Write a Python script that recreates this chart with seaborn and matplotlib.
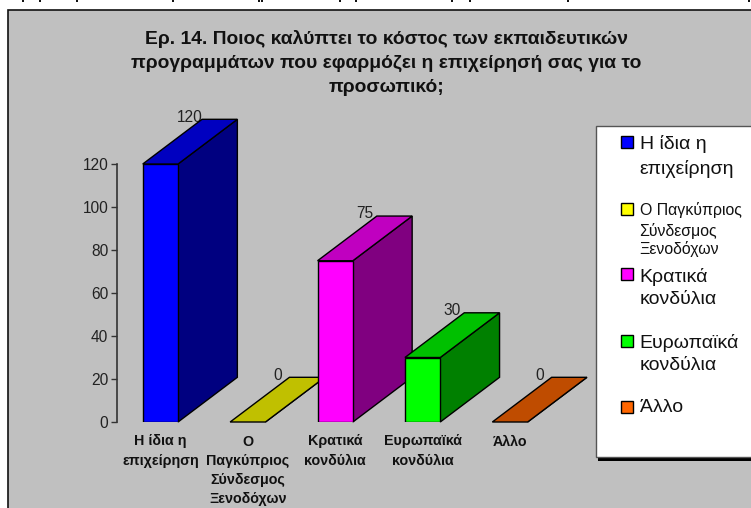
import matplotlib
matplotlib.use("Agg")
import matplotlib.pyplot as plt
from matplotlib.patches import Polygon, Rectangle
import seaborn as sns

# Survey responses: who covers the cost of staff training programmes
categories = ["Η ίδια η\nεπιχείρηση", "Ο\nΠαγκύπριος\nΣύνδεσμος\nΞενοδόχων",
              "Κρατικά\nκονδύλια", "Ευρωπαϊκά\nκονδύλια", "Άλλο"]
values = [120, 0, 75, 30, 0]
yticks = [0, 20, 40, 60, 80, 100, 120]
front_colors = ["#0000FF", "#FFFF00", "#FF00FF", "#00FF00", "#FF6600"]
top_colors = ["#0000C0", "#C0C000", "#C000C0", "#00C000", "#BF4C00"]
side_colors = ["#000080", "#808000", "#800080", "#008000", "#7F3300"]
title_lines = ["Ερ. 14. Ποιος καλύπτει το κόστος των εκπαιδευτικών",
               "προγραμμάτων που εφαρμόζει η επιχείρησή σας για το",
               "προσωπικό;"]
legend_entries = [["Η ίδια η", "επιχείρηση"],
                  ["Ο Παγκύπριος", "Σύνδεσμος", "Ξενοδόχων"],
                  ["Κρατικά", "κονδύλια"],
                  ["Ευρωπαϊκά", "κονδύλια"],
                  ["Άλλο"]]

W, H = 751, 508
GREY = "#C0C0C0"
sns.set_theme(style="white", rc={"axes.facecolor": "none"})
plt.rcParams["font.family"] = ["Liberation Sans", "DejaVu Sans"]


def fx(px):
    return px / W


def fy(py):
    return 1 - py / H


def page_rect(x0, y0, x1, y1, **kw):
    """Rectangle given in page pixels, measured from the top-left corner."""
    r = Rectangle((fx(x0), fy(y1)), fx(x1) - fx(x0), fy(y0) - fy(y1),
                  transform=fig.transFigure, **kw)
    fig.add_artist(r)
    return r


fig = plt.figure(figsize=(W / 100, H / 100), dpi=100, facecolor="white")

# Chart area: grey panel with a dark rule along its top and left sides
page_rect(7.5, 9.5, W + 5, H + 5, facecolor=GREY, edgecolor="#111111", linewidth=1.2, zorder=-5)

# Tails of the heading cut off by the page edge
for tail_x in [23, 40, 77, 173, 259, 262, 340, 356, 452, 470, 568, 749]:
    page_rect(tail_x - 1, 0, tail_x + 1, 2.0, facecolor="#111111", edgecolor="none", zorder=-4)

ax = fig.add_axes([fx(116.7), fy(422), fx(553.7) - fx(116.7), fy(164) - fy(422)])
sns.barplot(x=list(range(len(values))), y=values, hue=list(range(len(values))),
            palette=front_colors, width=0.404, legend=False, saturation=1,
            edgecolor="black", linewidth=1.0, ax=ax)
ax.set_xlim(-0.5, 4.5)
ax.set_ylim(0, 120)

# Receding faces of each bar; later bars sit in front of earlier ones
px_x = 437 / 5
px_y = 258 / 120
depth_x = 59.3 / px_x
depth_y = 44.7 / px_y
for i, (bar, val) in enumerate(zip(ax.patches, values)):
    x0, x1 = bar.get_x(), bar.get_x() + bar.get_width()
    base_z = 3 + i * 3
    if val > 0:
        bar.set_zorder(base_z + 2)
    else:
        bar.set_visible(False)
    ax.add_patch(Polygon([(x1, 0), (x1 + depth_x, depth_y), (x1 + depth_x, val + depth_y), (x1, val)],
                         closed=True, facecolor=side_colors[i], edgecolor="black",
                         linewidth=1.0, clip_on=False, zorder=base_z))
    ax.add_patch(Polygon([(x0, val), (x0 + depth_x, val + depth_y), (x1 + depth_x, val + depth_y), (x1, val)],
                         closed=True, facecolor=top_colors[i], edgecolor="black",
                         linewidth=1.0, clip_on=False, zorder=base_z + 1))
    ax.annotate(str(val), ((x0 + x1) / 2 + depth_x / 2, val + depth_y), xytext=(0, 1.5),
                textcoords="offset points", ha="center", va="center",
                fontsize=11.2, color="#222222", zorder=2, annotation_clip=False)

sns.despine(ax=ax, left=False, bottom=True, top=True, right=True)
ax.spines["left"].set_color("#333333")
ax.spines["left"].set_linewidth(1.2)
ax.set_yticks(yticks)
ax.set_yticklabels([str(t) for t in yticks], fontsize=11.2, color="#222222")
ax.tick_params(axis="y", length=4, width=1.0, color="#333333", left=True, pad=2)
ax.set_xticks(range(len(categories)))
ax.set_xticklabels(categories, fontsize=10.3, fontweight="bold", color="#111111", linespacing=1.46)
ax.tick_params(axis="x", length=0, pad=9)

# Heading
for line, y in zip(title_lines, [38.5, 63.5, 87.5]):
    fig.text(fx(386.5), fy(y), line, ha="center", va="center", fontsize=13.9,
             fontweight="bold", color="#111111")

# Legend panel with its drop shadow
page_rect(598, 456.5, W + 5, 461, facecolor="black", edgecolor="none", zorder=1)
page_rect(596, 126, W + 5, 457, facecolor="white", edgecolor="#555555", linewidth=1.0, zorder=2)

swatch_tops = [136.5, 203, 268, 334.5, 400.5]
line_centres = [[144.5, 168.5], [210, 230.5, 249], [276.5, 299.5], [342.5, 365.5], [407.5]]
entry_sizes = [14, 11.4, 14, 14, 14]
for color, top, entry, centres, size in zip(front_colors, swatch_tops, legend_entries, line_centres, entry_sizes):
    page_rect(620.5, top, 632.5, top + 12, facecolor=color, edgecolor="black", linewidth=1.0, zorder=3)
    for text, cy in zip(entry, centres):
        fig.text(fx(639.5), fy(cy), text, ha="left", va="center", fontsize=size, color="#111111", zorder=4)

fig.savefig("out.png", dpi=100)
